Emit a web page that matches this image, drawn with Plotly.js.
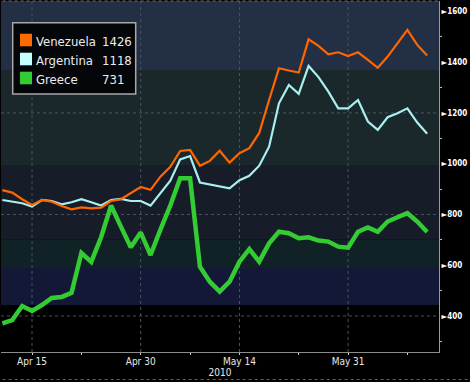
<!DOCTYPE html>
<html><head><meta charset="utf-8">
<script src="https://cdn.plot.ly/plotly-3.0.1.min.js"></script>
<style>html,body{margin:0;padding:0;background:#000;}#chart{width:470px;height:382px;}</style>
</head><body><div id="chart"></div>
<script>
// ---- data ----
const dates = ['2010-04-12','2010-04-13','2010-04-14','2010-04-15','2010-04-16','2010-04-19','2010-04-20','2010-04-21','2010-04-22','2010-04-23','2010-04-26','2010-04-27','2010-04-28','2010-04-29','2010-04-30',
  '2010-05-03','2010-05-04','2010-05-05','2010-05-06','2010-05-07','2010-05-10','2010-05-11','2010-05-12','2010-05-13','2010-05-14','2010-05-17','2010-05-18','2010-05-19','2010-05-20','2010-05-21','2010-05-24','2010-05-25','2010-05-26','2010-05-27','2010-05-28','2010-05-31',
  '2010-06-01','2010-06-02','2010-06-03','2010-06-04','2010-06-07','2010-06-08','2010-06-09','2010-06-10'];
const venezuela = [896,886,860,837,857,850,833,820,828,824,827,853,860,883,908,897,949,988,1050,1054,992,1011,1051,1004,1041,1061,1121,1251,1376,1367,1359,1490,1464,1431,1439,1424,1439,1409,1378,1422,1474,1527,1468,1426];
const argentina = [857,850,844,831,857,853,840,848,860,848,835,857,861,853,853,835,883,933,1017,1030,926,918,913,903,935,952,992,1067,1238,1310,1275,1385,1341,1284,1218,1218,1251,1166,1133,1183,1199,1218,1162,1118];
const greece = [371,384,439,420,443,471,475,491,648,613,711,835,752,671,729,640,740,835,943,943,594,535,496,535,614,663,614,686,732,726,706,710,697,693,673,669,732,749,732,772,789,805,772,731];
const seriesNames = ['Venezuela','Argentina','Greece'];
const xTickVals = ['2010-04-15','2010-04-22','2010-04-30','2010-05-07','2010-05-14','2010-05-24','2010-05-31','2010-06-08'];
const xTickText = ['Apr 15','','Apr 30','','May 14','','May 31',''];
const yTickVals = [400,600,800,1000,1200,1400,1600];
const yMinorVals = [300,500,700,900,1100,1300,1500];
const yGridVals = [400,800,1200];
const yearLabel = '2010';

// ---- styles ----
const colors = {Venezuela:'#ff6600', Argentina:'#a8f0f0', Greece:'#33cc33'};
const swatch = {Venezuela:'#ff6a00', Argentina:'#c4ffff', Greece:'#33cc33'};
const widths = {Venezuela:2.2, Argentina:2.2, Greece:4.5};
const values = {Venezuela:venezuela, Argentina:argentina, Greece:greece};
const cond = '"DejaVu Sans Condensed", "DejaVu Sans", sans-serif';

const L=1, R=31, T=1, B=30, W=470, H=382;
const pw=W-L-R, ph=H-T-B;
const px = v => (v-L)/pw;
const py = v => (H-B-v)/ph;
const yRange=[258,1641];

const traces = ['Greece','Argentina','Venezuela'].map(n=>({
  type:'scatter', mode:'lines', x:dates, y:values[n], name:n,
  line:{color:colors[n], width:widths[n]}, hoverinfo:'skip'
}));

const shapes = [];
const bands = [
  [1369, yRange[1], '#222f44'],
  [995, 1369, '#1a282c'],
  [700, 995, '#161c28'],
  [589, 700, '#112226'],
  [443, 589, '#121836']
];
bands.forEach(b=>shapes.push({type:'rect', layer:'below', xref:'paper', yref:'y', x0:0, x1:1, y0:b[0], y1:b[1], fillcolor:b[2], line:{width:0}}));
yGridVals.forEach(v=>shapes.push({type:'line', layer:'below', xref:'paper', yref:'y', x0:0, x1:1, y0:v, y1:v, line:{color:'#4c5260', width:1, dash:'dot'}}));
xTickVals.forEach((d,i)=>{ if(xTickText[i]){ const k=dates.indexOf(d);
  shapes.push({type:'line', layer:'below', xref:'x', yref:'paper', x0:k, x1:k, y0:0, y1:1, line:{color:'#4c5260', width:1, dash:'dot'}}); }});
shapes.push({type:'line', xref:'paper', yref:'paper', x0:-0.01, x1:1, y0:1, y1:1, line:{color:'#707070', width:1, dash:'dot'}});
shapes.push({type:'line', xref:'paper', yref:'paper', x0:-0.01, x1:1.07, y0:py(379.5), y1:py(379.5), line:{color:'#606060', width:1, dash:'dot'}});
shapes.push({type:'rect', xref:'paper', yref:'paper', x0:px(12.7), x1:px(135.7), y0:py(94), y1:py(22.7), fillcolor:'#04060a', line:{color:'#a8a8a8', width:1.5}});

const annotations = [];
const rowY = [40, 59, 78];
seriesNames.forEach((n,i)=>{
  const cy=rowY[i];
  shapes.push({type:'rect', xref:'paper', yref:'paper', x0:px(20), x1:px(32), y0:py(cy+6.3), y1:py(cy-6.3), fillcolor:swatch[n], line:{width:0}});
  annotations.push({xref:'paper', yref:'paper', x:px(33.5), y:py(cy+1), xanchor:'left', yanchor:'middle', showarrow:false, text:n, font:{family:cond, size:13, color:'#ececec'}});
  const arr=values[n];
  annotations.push({xref:'paper', yref:'paper', x:px(99.5), y:py(cy+1), xanchor:'left', yanchor:'middle', showarrow:false, text:String(arr[arr.length-1]), font:{family:cond, size:13, color:'#ececec'}});
});

const layout = {
  width:W, height:H, margin:{l:L,r:R,t:T,b:B,pad:0},
  paper_bgcolor:'#000', plot_bgcolor:'#000', showlegend:false,
  xaxis:{type:'category', range:[-0.14,44.2], tickmode:'array', tickvals:xTickVals, ticktext:xTickText,
    ticks:'outside', ticklen:2, tickwidth:1, tickcolor:'#cfcfcf', showgrid:false, zeroline:false,
    showline:true, linecolor:'#8c8c8c', linewidth:1, automargin:false, ticklabelstandoff:-2,
    tickfont:{family:cond, size:10, color:'#e8e8e8'},
    title:{text:yearLabel, font:{family:cond, size:10, color:'#e8e8e8'}, standoff:1}},
  yaxis:{side:'right', range:yRange, tickmode:'array', tickvals:yTickVals, ticktext:yTickVals.map(v=>'►'+v),
    ticks:'', showgrid:false, zeroline:false, showline:true, linecolor:'#9a9a9a', linewidth:1, automargin:false,
    tickfont:{family:cond, size:8, color:'#ffffff', weight:'bold'},
    minor:{tickmode:'array', tickvals:yMinorVals, ticks:'outside', ticklen:2, tickcolor:'#bdbdbd', showgrid:false}},
  shapes:shapes, annotations:annotations
};
Plotly.newPlot('chart', traces, layout, {staticPlot:true, displayModeBar:false});
</script></body></html>
